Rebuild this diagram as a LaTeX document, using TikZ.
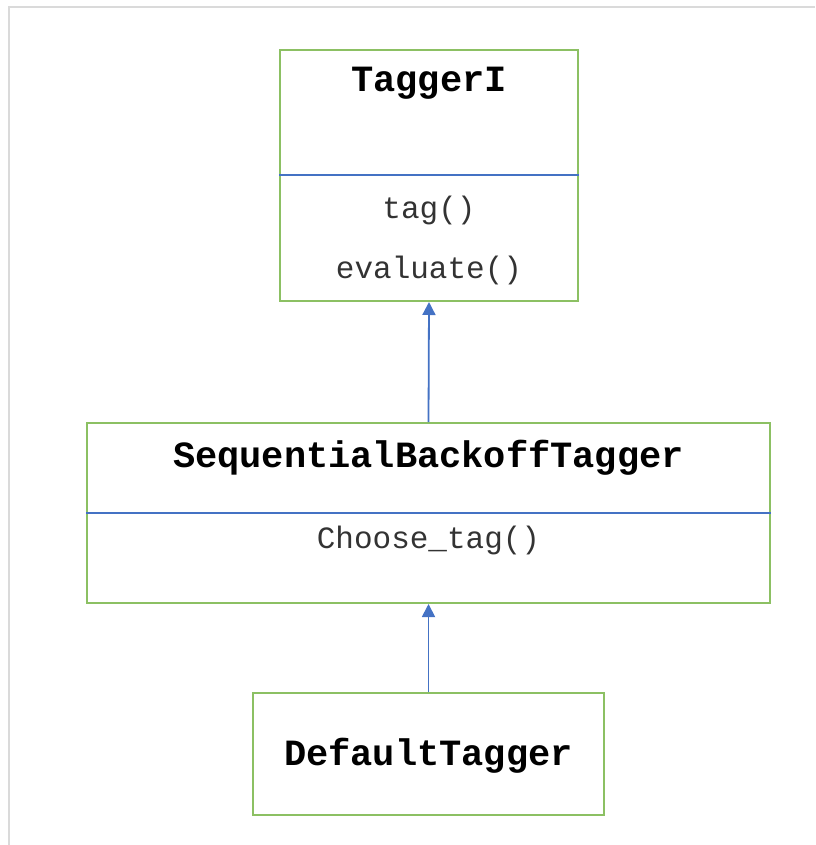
\documentclass[tikz,border=0pt]{standalone}
\usepackage{fontspec}
\setmonofont{Liberation Mono}
\usetikzlibrary{arrows.meta}
\definecolor{boxgreen}{HTML}{8CC063}
\definecolor{linkblue}{HTML}{4472C4}
\definecolor{framegray}{HTML}{DADADA}
\tikzset{
  classbox/.style={draw=boxgreen, line width=2pt, rectangle, inner sep=0pt},
  divider/.style={draw=linkblue, line width=1.4pt},
  classname/.style={font=\ttfamily\bfseries\fontsize{37}{40}\selectfont, inner sep=0pt, anchor=base},
  member/.style={font=\ttfamily\fontsize{31}{34}\selectfont, text=black!80, inner sep=0pt, anchor=base},
  inherits/.style={draw=linkblue, line width=1.8pt, -{Triangle[width=13pt,length=13pt]}}
}
\begin{document}
\begin{tikzpicture}[x=1pt,y=-1pt]
  \useasboundingbox (0,0) rectangle (815,845);
  % page frame
  \draw[framegray, line width=2pt] (9,845) -- (9,7) -- (815,7);

  % TaggerI
  \node[classbox, minimum width=298pt, minimum height=251pt] (taggeri) at (429,175.5) {};
  \draw[divider] (taggeri.west |- 0,175) -- (taggeri.east |- 0,175);
  \node[classname] (taggeriname) at (429,92) {TaggerI};
  \node[member] (tag) at (429,218) {tag()};
  \node[member] (evaluate) at (429,278) {evaluate()};

  % SequentialBackoffTagger
  \node[classbox, minimum width=683pt, minimum height=180pt] (sbt) at (428.5,513) {};
  \draw[divider] (sbt.west) -- (sbt.east);
  \node[classname] (sbtname) at (428.5,467) {SequentialBackoffTagger};
  \node[member] (choosetag) at (428.5,548) {Choose\_tag()};

  % DefaultTagger
  \node[classbox, minimum width=351pt, minimum height=122pt] (dt) at (428.5,754) {};
  \node[classname] (dtname) at (428.5,765) {DefaultTagger};

  % inheritance arrows
  \draw[inherits] (sbt.north) -- (taggeri.south);
  \draw[inherits] (dt.north) -- (sbt.south);
\end{tikzpicture}
\end{document}
